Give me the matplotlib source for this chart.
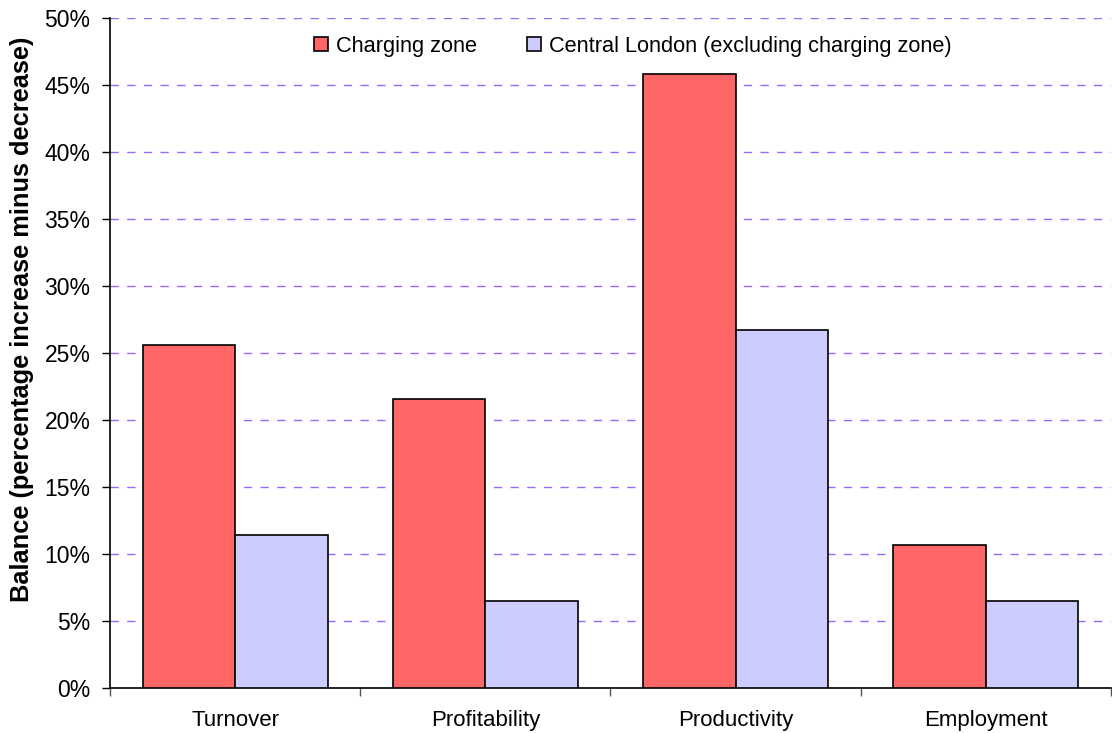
import matplotlib
matplotlib.use("Agg")
import matplotlib.pyplot as plt
import numpy as np
from matplotlib.ticker import FuncFormatter, FixedLocator

plt.rcParams['font.family'] = ['Liberation Sans', 'DejaVu Sans']

categories = ["Turnover", "Profitability", "Productivity", "Employment"]
charging_zone = [25.6, 21.6, 45.8, 10.7]
central_london = [11.4, 6.5, 26.7, 6.5]
series_names = ["Charging zone", "Central London (excluding charging zone)"]
colors = ["#FF6666", "#CCCCFF"]

fig = plt.figure(figsize=(11.12, 7.33), dpi=100)
ax = fig.add_axes([110/1112, 45/733, 1001/1112, 670/733])

x = np.arange(len(categories))
w = 0.37
ax.bar(x - w/2, charging_zone, w, color=colors[0], edgecolor="black", linewidth=1.2, label=series_names[0], zorder=3)
ax.bar(x + w/2, central_london, w, color=colors[1], edgecolor="black", linewidth=1.2, label=series_names[1], zorder=3)

ax.set_xlim(-0.5, len(categories) - 0.5)
ax.set_ylim(0, 50)
ax.set_yticks(np.arange(0, 51, 5))
ax.yaxis.set_major_formatter(FuncFormatter(lambda v, p: f"{int(v)}%"))
ax.grid(axis="y", color="#9966FF", linestyle=(0, (6, 6)), linewidth=1.0, zorder=0)
ax.set_axisbelow(True)

ax.set_xticks(x)
ax.set_xticklabels(categories, fontsize=16)
ax.tick_params(axis="x", length=0, pad=16)
ax.xaxis.set_minor_locator(FixedLocator(np.arange(-0.5, len(categories), 1.0)))
ax.tick_params(axis="x", which="minor", length=6, color="#555555", width=1)
ax.tick_params(axis="y", labelsize=16.5, length=6, width=1, pad=8)

for s in ["top", "right"]:
    ax.spines[s].set_visible(False)
ax.spines["left"].set_linewidth(1.2)
ax.spines["bottom"].set_linewidth(1.2)

ax.set_ylabel("Balance (percentage increase minus decrease)", fontsize=18.3, fontweight="bold")
ax.yaxis.set_label_coords(-0.076, 0.551)

ax.legend(loc="center", bbox_to_anchor=(0.522, 0.958), ncol=2, frameon=False, fontsize=15.7,
          handlelength=0.65, handleheight=0.65, handletextpad=0.35, columnspacing=2.3)

fig.savefig("out.png", dpi=100)
